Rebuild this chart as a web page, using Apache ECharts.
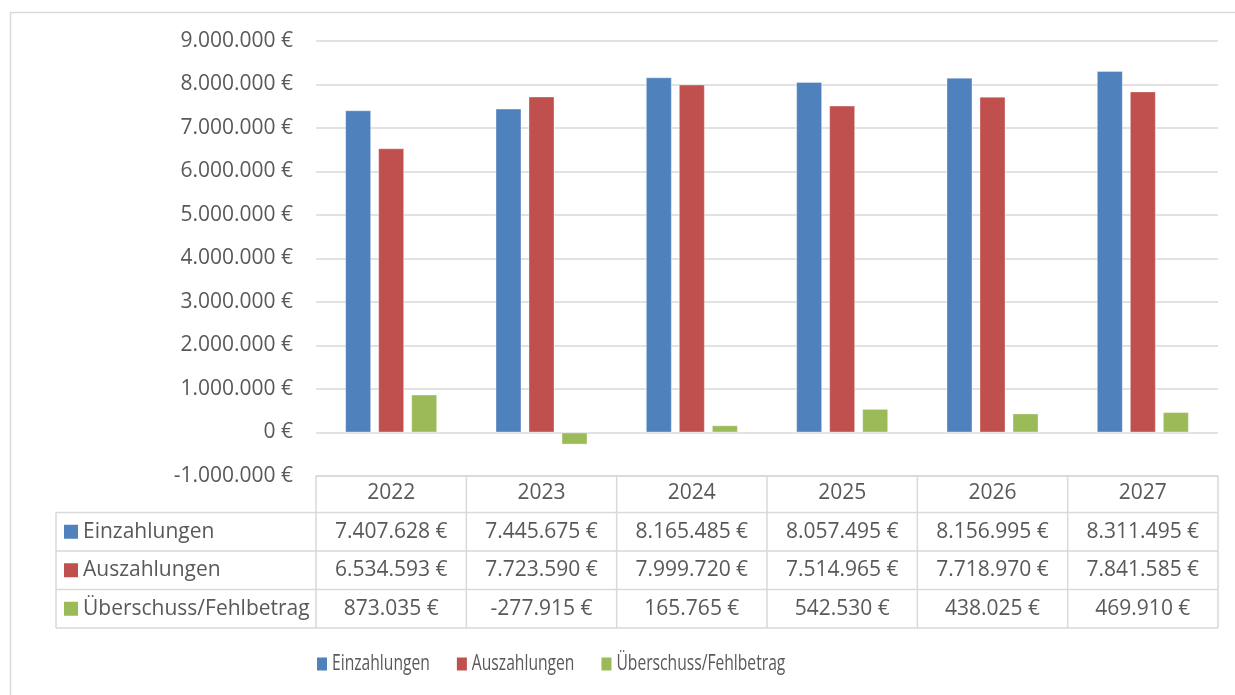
<!DOCTYPE html>
<html>
<head>
<meta charset="utf-8">
<script src="https://cdn.jsdelivr.net/npm/echarts@6/dist/echarts.min.js"></script>
<style>
  html,body{margin:0;padding:0;background:#fff;}
  #c{width:1235px;height:695px;}
</style>
</head>
<body>
<div id="c"></div>
<script>
const years = ['2022', '2023', '2024', '2025', '2026', '2027'];
const einzahlungen = [7407628, 7445675, 8165485, 8057495, 8156995, 8311495];
const auszahlungen = [6534593, 7723590, 7999720, 7514965, 7718970, 7841585];
const ueberschuss = [873035, -277915, 165765, 542530, 438025, 469910];
const seriesNames = ['Einzahlungen', 'Auszahlungen', 'Überschuss/Fehlbetrag'];
const seriesColors = ['#4F81BD', '#C0504D', '#9BBB59'];
const yMin = -1000000, yMax = 9000000, yStep = 1000000;

const FONT = 'Open Sans';
const FS = 21;
const TXT = '#595959';
const LINE = '#D9D9D9';

function fmt(v) {
  const neg = v < 0;
  const s = String(Math.abs(Math.round(v)));
  let out = '';
  for (let i = 0; i < s.length; i++) {
    if (i > 0 && (s.length - i) % 3 === 0) out += '.';
    out += s[i];
  }
  return (neg ? '-' : '') + out + ' €';
}

const allData = [einzahlungen, auszahlungen, ueberschuss];

const chart = echarts.init(document.getElementById('c'), null, {renderer: 'canvas'});

const option = {
  animation: false,
  textStyle: {fontFamily: FONT},
  grid: {left: 316, right: 17, top: 41, bottom: 219, containLabel: false},
  legend: {show: false, data: seriesNames},
  xAxis: {
    type: 'category',
    data: years,
    axisLine: {show: true, onZero: false, lineStyle: {color: LINE, width: 1.5}},
    axisTick: {show: false},
    axisLabel: {margin: 7, fontFamily: FONT, fontSize: FS, color: TXT}
  },
  yAxis: {
    type: 'value',
    min: yMin, max: yMax, interval: yStep,
    axisLine: {show: false},
    axisTick: {show: false},
    splitLine: {lineStyle: {color: LINE, width: 1.5}},
    axisLabel: {margin: 23, fontFamily: FONT, fontSize: FS, color: TXT, formatter: fmt}
  },
  series: seriesNames.map((n, i) => ({
    name: n,
    type: 'bar',
    data: allData[i],
    barWidth: 26,
    barGap: '27%',
    itemStyle: {color: seriesColors[i], borderColor: 'rgba(255,255,255,0.35)', borderWidth: 1}
  }))
};
chart.setOption(option);

function buildTableAndLegend() {
  const px0 = chart.convertToPixel({xAxisIndex: 0}, 0);
  const px1 = chart.convertToPixel({xAxisIndex: 0}, 1);
  const cw = px1 - px0;
  const left = px0 - cw / 2;
  const right = left + cw * years.length;
  const top = chart.convertToPixel({yAxisIndex: 0}, yMin);
  const headerH = 36.5;
  const rowH = 38.5;
  const labelLeft = 56;
  const g = [];
  const ls = {stroke: LINE, lineWidth: 1.5};
  const rowsTop = top + headerH;
  const bottom = rowsTop + rowH * seriesNames.length;
  const font = FS + 'px "' + FONT + '"';
  for (let r = 0; r <= seriesNames.length; r++) {
    const y = rowsTop + r * rowH;
    g.push({type: 'line', shape: {x1: labelLeft, y1: y, x2: right, y2: y}, style: ls, silent: true});
  }
  g.push({type: 'line', shape: {x1: labelLeft, y1: rowsTop, x2: labelLeft, y2: bottom}, style: ls, silent: true});
  for (let c = 0; c <= years.length; c++) {
    const x = left + c * cw;
    g.push({type: 'line', shape: {x1: x, y1: top, x2: x, y2: bottom}, style: ls, silent: true});
  }
  seriesNames.forEach((n, r) => {
    const cy = rowsTop + r * rowH + rowH / 2;
    g.push({type: 'rect', shape: {x: 64, y: cy - 7, width: 14, height: 14}, style: {fill: seriesColors[r]}, silent: true});
    g.push({type: 'text', x: 83, y: cy, style: {text: n, fill: TXT, font: font, verticalAlign: 'middle', align: 'left'}, silent: true});
    allData[r].forEach((v, c) => {
      const cx = chart.convertToPixel({xAxisIndex: 0}, c);
      g.push({type: 'text', x: cx, y: cy, style: {text: fmt(v), fill: TXT, font: font, verticalAlign: 'middle', align: 'center'}, silent: true});
    });
  });
  // legend (horizontally condensed text as in the original)
  const ctx = document.createElement('canvas').getContext('2d');
  ctx.font = font;
  const sx = 0.745;
  let lx = 317;
  const ly = 664;
  seriesNames.forEach((n, i) => {
    g.push({type: 'rect', shape: {x: lx, y: ly - 6.5, width: 10, height: 13}, style: {fill: seriesColors[i]}, silent: true});
    const tx = lx + 15;
    g.push({type: 'text', x: tx, y: ly, scaleX: sx, style: {text: n, fill: TXT, font: font, verticalAlign: 'middle', align: 'left'}, silent: true});
    lx = tx + ctx.measureText(n).width * sx + 27;
  });
  g.push({type: 'rect', shape: {x: 10.5, y: 12.5, width: 1240, height: 700}, style: {fill: 'none', stroke: LINE, lineWidth: 1.5}, silent: true, z: -1});
  chart.setOption({graphic: g});
}
if (document.fonts && document.fonts.load) {
  document.fonts.load(FS + 'px "' + FONT + '"').then(buildTableAndLegend, buildTableAndLegend);
} else {
  buildTableAndLegend();
}
</script>
</body>
</html>
